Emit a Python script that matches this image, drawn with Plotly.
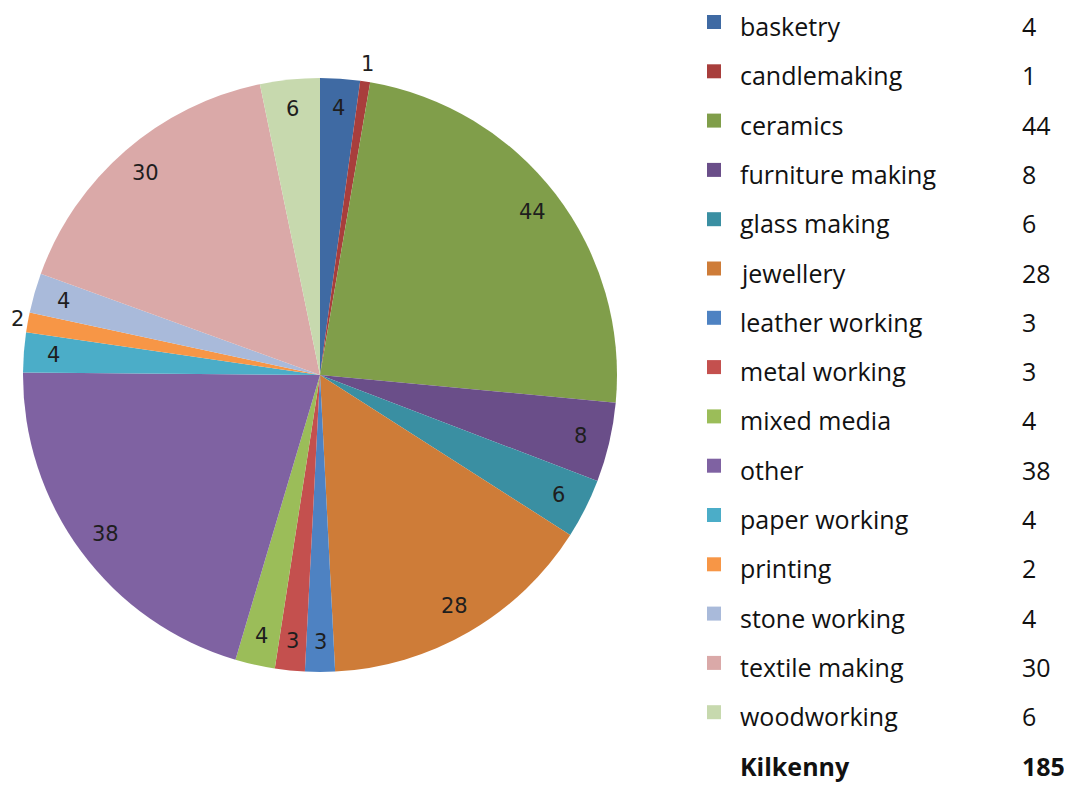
import math
import plotly.graph_objects as go

categories = ["basketry", "candlemaking", "ceramics", "furniture making", "glass making",
              "jewellery", "leather working", "metal working", "mixed media", "other",
              "paper working", "printing", "stone working", "textile making", "woodworking"]
values = [4, 1, 44, 8, 6, 28, 3, 3, 4, 38, 4, 2, 4, 30, 6]
colors = ["#3F6AA3", "#A83E3C", "#809E4A", "#6A4E89", "#3A8FA2", "#CE7C38",
          "#4E82C2", "#C4504E", "#9BBD59", "#7F62A2", "#4BADC8", "#F79646",
          "#A9BADA", "#DAA9A8", "#C7D9AE"]
total_label = "Kilkenny"
total = sum(values)

OFF = 8  # page body margin
W, H = 1072 - 2 * OFF, 791 - 2 * OFF
cx, cy, R = 320 - OFF, 375 - OFF, 297  # pixel geometry of the pie

fig = go.Figure()
fig.add_trace(go.Pie(
    labels=categories, values=values, sort=False, direction="clockwise", rotation=0,
    marker=dict(colors=colors, line=dict(width=0)),
    textinfo="none", hoverinfo="label+value", showlegend=False,
    domain=dict(x=[(cx - R) / W, (cx + R) / W], y=[1 - (cy + R) / H, 1 - (cy - R) / H]),
))

annotations = []
cum = 0
for v in values:
    mid = (cum + v / 2) / total * 2 * math.pi
    cum += v
    frac = 1.06 if v / total < 0.012 else 0.9
    px = cx + frac * R * math.sin(mid)
    py = cy - frac * R * math.cos(mid)
    px = min(max(px, 9), W - 9)
    annotations.append(dict(x=px / W, y=1 - py / H, xref="paper", yref="paper",
                            text=str(v), showarrow=False, xanchor="center", yanchor="middle",
                            font=dict(family="DejaVu Sans", size=21, color="#1e1e1e")))

shapes = []
row0, step = 26 - OFF, 49.3
FS = 25
vx = 1020 - OFF
for i, (c, v, col) in enumerate(zip(categories, values, colors)):
    yc = row0 + step * i
    shapes.append(dict(type="rect", xref="paper", yref="paper",
                       x0=(707 - OFF) / W, x1=(721 - OFF) / W,
                       y0=1 - (yc + 3) / H, y1=1 - (yc - 11) / H,
                       fillcolor=col, line=dict(width=0)))
    annotations.append(dict(x=(738 - OFF) / W, y=1 - yc / H, xref="paper", yref="paper", text=c,
                            showarrow=False, xanchor="left", yanchor="middle",
                            font=dict(family="Open Sans", size=FS, color="#111111")))
    annotations.append(dict(x=vx / W, y=1 - yc / H, xref="paper", yref="paper",
                            text=str(v), showarrow=False, xanchor="left", yanchor="middle",
                            font=dict(family="Open Sans", size=FS, color="#111111")))
yc = row0 + step * len(categories)
annotations.append(dict(x=(738 - OFF) / W, y=1 - yc / H, xref="paper", yref="paper",
                        text="<b>%s</b>" % total_label, showarrow=False, xanchor="left",
                        yanchor="middle", font=dict(family="Open Sans", size=FS, color="#111111")))
annotations.append(dict(x=vx / W, y=1 - yc / H, xref="paper", yref="paper",
                        text="<b>%d</b>" % total, showarrow=False, xanchor="left",
                        yanchor="middle", font=dict(family="Open Sans", size=FS, color="#111111")))

fig.update_layout(width=W, height=H, margin=dict(l=0, r=0, t=0, b=0),
                  paper_bgcolor="white", plot_bgcolor="white",
                  annotations=annotations, shapes=shapes)
fig.write_html("out.html")
